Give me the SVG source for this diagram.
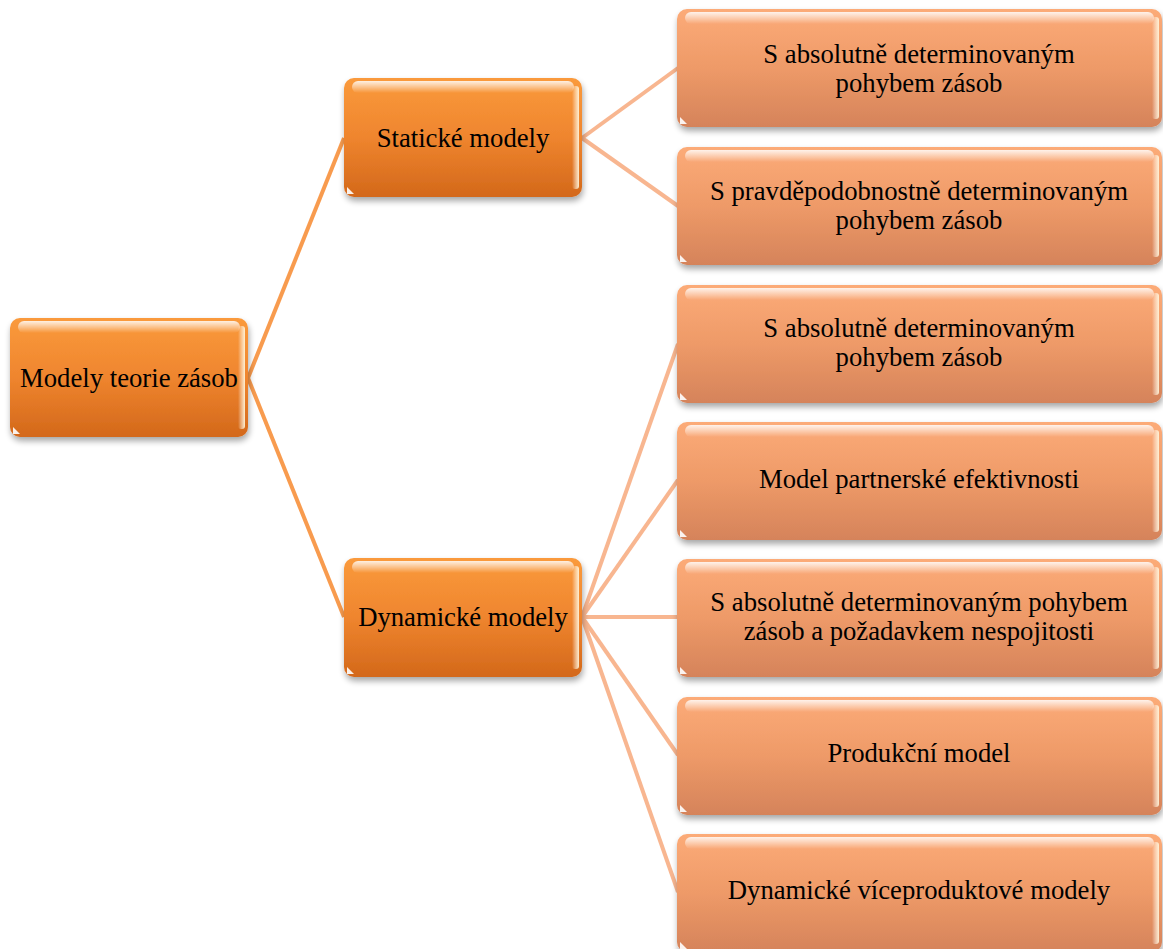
<svg xmlns="http://www.w3.org/2000/svg" width="1163" height="949" viewBox="0 0 1163 949">
  <defs>
    <linearGradient id="gMain" x1="0" y1="0" x2="0" y2="1">
      <stop offset="0" stop-color="#FA9A3C"/>
      <stop offset="0.5" stop-color="#EF852E"/>
      <stop offset="1" stop-color="#D3681B"/>
    </linearGradient>
    <linearGradient id="gLeaf" x1="0" y1="0" x2="0" y2="1">
      <stop offset="0" stop-color="#FCAB78"/>
      <stop offset="0.5" stop-color="#EE9A68"/>
      <stop offset="1" stop-color="#D5835A"/>
    </linearGradient>
    <linearGradient id="gShine" x1="0" y1="0" x2="0" y2="1">
      <stop offset="0" stop-color="#FFFFFF" stop-opacity="0.85"/>
      <stop offset="1" stop-color="#FFFFFF" stop-opacity="0"/>
    </linearGradient>
    <linearGradient id="gEdge" x1="0" y1="0" x2="1" y2="0">
      <stop offset="0" stop-color="#FFFFFF" stop-opacity="0"/>
      <stop offset="1" stop-color="#FFF4D8" stop-opacity="0.95"/>
    </linearGradient>
    <filter id="shadow" x="-10%" y="-10%" width="125%" height="135%">
      <feGaussianBlur in="SourceAlpha" stdDeviation="3"/>
      <feOffset dx="1" dy="4" result="b"/>
      <feComponentTransfer><feFuncA type="linear" slope="0.35"/></feComponentTransfer>
      <feMerge><feMergeNode/><feMergeNode in="SourceGraphic"/></feMerge>
    </filter>
    <!-- reusable box: body, top gloss, right-edge gloss, corner notch -->
    <g id="mainBox">
      <rect x="0" y="0" width="238" height="119" rx="10" fill="url(#gMain)" filter="url(#shadow)"/>
      <rect x="8" y="3" width="222" height="12" rx="6" fill="url(#gShine)"/>
      <rect x="228" y="8" width="7" height="103" rx="3" fill="url(#gEdge)"/>
      <path d="M3 116 L3 109 L10 116 Z" fill="#FFFFFF" opacity="0.9"/>
    </g>
    <g id="leafBox">
      <rect x="0" y="0" width="485" height="118" rx="10" fill="url(#gLeaf)" filter="url(#shadow)"/>
      <rect x="8" y="3" width="469" height="12" rx="6" fill="url(#gShine)"/>
      <rect x="475" y="8" width="7" height="102" rx="3" fill="url(#gEdge)"/>
      <path d="M3 115 L3 108 L10 115 Z" fill="#FFFFFF" opacity="0.9"/>
    </g>
  </defs>
  <style>
    text { font-family: "Liberation Serif", "Times New Roman", serif; font-size: 26.7px; fill: #000000; text-anchor: middle; }
    .c1 { stroke: #F89B4E; stroke-width: 4; fill: none; }
    .c2 { stroke: #F8B690; stroke-width: 4; fill: none; }
  </style>

  <rect width="1163" height="949" fill="#FFFFFF"/>

  <g id="connectors">
    <path class="c1" d="M248 378 L344 138"/>
    <path class="c1" d="M248 378 L344 617"/>
    <path class="c2" d="M582 138 L678 68"/>
    <path class="c2" d="M582 138 L678 206"/>
    <path class="c2" d="M582 617 L678 344"/>
    <path class="c2" d="M582 617 L678 480"/>
    <path class="c2" d="M582 617 L678 617"/>
    <path class="c2" d="M582 617 L678 755"/>
    <path class="c2" d="M582 617 L678 892"/>
  </g>

  <g id="root">
    <use href="#mainBox" x="10" y="318"/>
    <text x="129" y="387">Modely teorie zásob</text>
  </g>
  <g id="static">
    <use href="#mainBox" x="344" y="78"/>
    <text x="463" y="147">Statické modely</text>
  </g>
  <g id="dynamic">
    <use href="#mainBox" x="344" y="558"/>
    <text x="463" y="626">Dynamické modely</text>
  </g>

  <g id="leaf-static-abs">
    <use href="#leafBox" x="677" y="9"/>
    <text x="919" y="63">S absolutně determinovaným</text>
    <text x="919" y="92">pohybem zásob</text>
  </g>
  <g id="leaf-static-prob">
    <use href="#leafBox" x="677" y="147"/>
    <text x="919" y="200">S pravděpodobnostně determinovaným</text>
    <text x="919" y="229">pohybem zásob</text>
  </g>
  <g id="leaf-dyn-abs">
    <use href="#leafBox" x="677" y="285"/>
    <text x="919" y="337">S absolutně determinovaným</text>
    <text x="919" y="366">pohybem zásob</text>
  </g>
  <g id="leaf-dyn-partner">
    <use href="#leafBox" x="677" y="422"/>
    <text x="919" y="488">Model partnerské efektivnosti</text>
  </g>
  <g id="leaf-dyn-discont">
    <use href="#leafBox" x="677" y="559"/>
    <text x="919" y="611">S absolutně determinovaným pohybem</text>
    <text x="919" y="640">zásob a požadavkem nespojitosti</text>
  </g>
  <g id="leaf-dyn-production">
    <use href="#leafBox" x="677" y="697"/>
    <text x="919" y="762">Produkční model</text>
  </g>
  <g id="leaf-dyn-multi">
    <use href="#leafBox" x="677" y="834"/>
    <text x="919" y="899">Dynamické víceproduktové modely</text>
  </g>
</svg>
